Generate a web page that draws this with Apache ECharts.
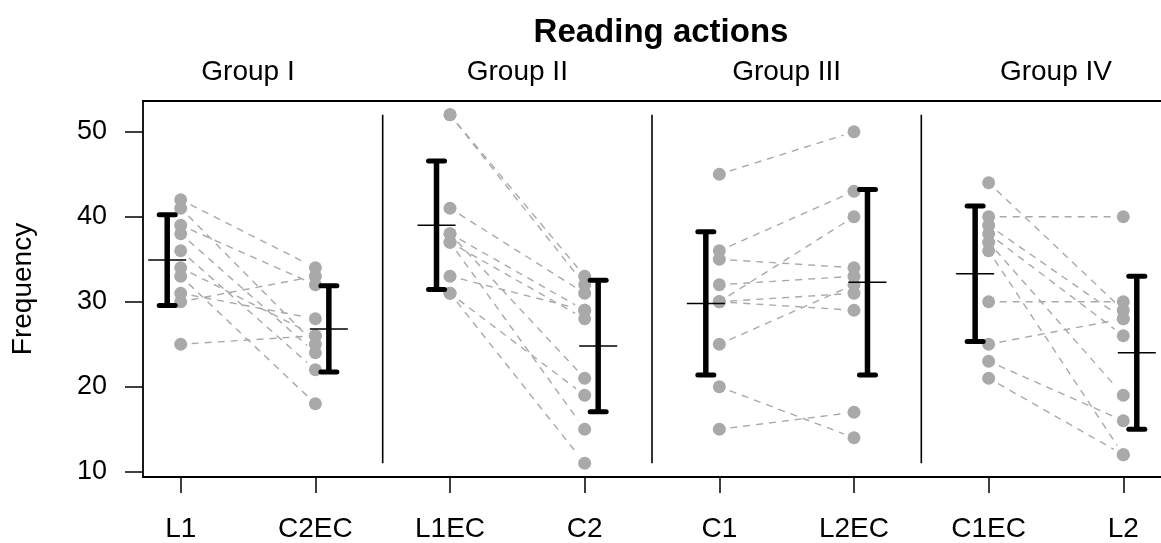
<!DOCTYPE html>
<html>
<head>
<meta charset="utf-8">
<script src="https://cdn.jsdelivr.net/npm/echarts@6/dist/echarts.min.js"></script>
<style>
html,body{margin:0;padding:0;background:#fff;}
#chart{width:1161px;height:543px;}
</style>
</head>
<body>
<div id="chart"></div>
<script>
// ---- data ----
const categories = ['L1', 'C2EC', 'L1EC', 'C2', 'C1', 'L2EC', 'C1EC', 'L2'];
const groupNames = ['Group I', 'Group II', 'Group III', 'Group IV'];
const yTickValues = [10, 20, 30, 40, 50];

// paired subjects: index k of first column is linked to index k of second column
const g1L1   = [42, 41, 39, 38, 36, 34, 33, 31, 30, 25];
const g1C2EC = [34, 25, 32, 24, 22, 26, 18, 28, 33, 26];

const g2L1EC = [52, 52, 41, 38, 38, 37, 37, 33, 31, 31];
const g2C2   = [33, 32, 31, 29, 21, 28, 15, 29, 19, 11];

const g3C1   = [45, 36, 35, 32, 30, 30, 30, 25, 20, 15];
const g3L2EC = [50, 43, 34, 33, 40, 31, 29, 32, 14, 17];

const g4C1EC = [44, 40, 39, 38, 37, 36, 30, 25, 23, 21];
const g4L2   = [29, 40, 28, 26, 19, 12, 30, 28, 16, 12];

// ---- derived ----
const columns = [g1L1, g1C2EC, g2L1EC, g2C2, g3C1, g3L2EC, g4C1EC, g4L2];
const FONT = '"Liberation Sans", Arial, Helvetica, sans-serif';

function mean(a) { return a.reduce((s, v) => s + v, 0) / a.length; }
function sd(a) { const m = mean(a); return Math.sqrt(a.reduce((s, v) => s + (v - m) * (v - m), 0) / (a.length - 1)); }

const points = [];
columns.forEach((col, i) => col.forEach(v => points.push([i, v])));

const pairs = [];
for (let g = 0; g < columns.length / 2; g++) {
  const a = columns[2 * g], b = columns[2 * g + 1];
  a.forEach((v, k) => pairs.push([2 * g, v, 2 * g + 1, b[k]]));
}

const bars = columns.map((col, i) => [i, mean(col), sd(col), i % 2 === 0 ? -1 : 1]);

const allVals = columns.flat();
const lo = Math.min(...allVals), hi = Math.max(...allVals);
const seps = [];
for (let g = 1; g < groupNames.length; g++) seps.push([2 * g - 0.5, lo, hi]);

const chart = echarts.init(document.getElementById('chart'), null, { renderer: 'canvas' });

const GRAY = '#a9a9a9';
const GAP = 11;

const option = {
  backgroundColor: '#ffffff',
  animation: false,
  title: {
    text: 'Reading actions',
    left: 656,
    top: 11,
    textAlign: 'center',
    textStyle: { fontFamily: FONT, fontSize: 33, fontWeight: 'bold', color: '#000' }
  },
  grid: { left: 143, right: -9, top: 101, bottom: 66, containLabel: false },
  xAxis: [
    {
      type: 'value', position: 'bottom', min: -0.28, max: 7.28,
      splitLine: { show: false },
      axisLine: { show: true, onZero: false, lineStyle: { color: '#000', width: 1.8 } },
      axisTick: { show: true, inside: false, length: 16, customValues: categories.map((c, i) => i), lineStyle: { color: '#000', width: 1.5 } },
      axisLabel: {
        show: true, margin: 38, customValues: categories.map((c, i) => i),
        formatter: (v) => categories[Math.round(v)] || '',
        fontFamily: FONT, fontSize: 28, color: '#000'
      }
    },
    {
      type: 'value', position: 'top', min: -0.28, max: 7.28,
      splitLine: { show: false },
      axisLine: { show: true, onZero: false, lineStyle: { color: '#000', width: 1.8 } },
      axisTick: { show: false },
      axisLabel: {
        show: true, margin: 15, customValues: groupNames.map((g, i) => 2 * i + 0.5),
        formatter: (v) => groupNames[Math.round((v - 0.5) / 2)] || '',
        fontFamily: FONT, fontSize: 28, color: '#000'
      }
    }
  ],
  yAxis: {
    type: 'value', min: 9.38, max: 53.62,
    name: 'Frequency', nameLocation: 'middle', nameGap: 106, nameRotate: 90,
    nameTextStyle: { fontFamily: FONT, fontSize: 28, color: '#000' },
    splitLine: { show: false },
    axisLine: { show: true, onZero: false, lineStyle: { color: '#000', width: 1.8 } },
    axisTick: { show: true, inside: false, length: 18, customValues: yTickValues, lineStyle: { color: '#000', width: 1.5 } },
    axisLabel: {
      show: true, margin: 36, customValues: yTickValues,
      fontFamily: FONT, fontSize: 27, color: '#000'
    }
  },
  series: [
    {
      name: 'pairs', type: 'custom', xAxisIndex: 0, z: 1,
      encode: { x: [0, 2], y: [1, 3] },
      data: pairs,
      renderItem: function (params, api) {
        const p0 = api.coord([api.value(0), api.value(1)]);
        const p1 = api.coord([api.value(2), api.value(3)]);
        const dx = p1[0] - p0[0], dy = p1[1] - p0[1];
        const len = Math.sqrt(dx * dx + dy * dy);
        const ux = dx / len, uy = dy / len;
        return {
          type: 'line',
          shape: { x1: p0[0] + ux * GAP, y1: p0[1] + uy * GAP, x2: p1[0] - ux * GAP, y2: p1[1] - uy * GAP },
          style: { stroke: GRAY, lineWidth: 1.4, lineDash: [7, 6], fill: null }
        };
      }
    },
    {
      name: 'points', type: 'scatter', xAxisIndex: 0, z: 2,
      symbol: 'circle', symbolSize: 13,
      itemStyle: { color: GRAY, opacity: 1 },
      data: points
    },
    {
      name: 'separators', type: 'custom', xAxisIndex: 0, z: 3,
      encode: { x: 0, y: [1, 2] },
      data: seps,
      renderItem: function (params, api) {
        const a = api.coord([api.value(0), api.value(1)]);
        const b = api.coord([api.value(0), api.value(2)]);
        return { type: 'line', shape: { x1: a[0], y1: a[1], x2: b[0], y2: b[1] }, style: { stroke: '#000', lineWidth: 1.6 } };
      }
    },
    {
      name: 'errorbars', type: 'custom', xAxisIndex: 0, z: 4,
      encode: { x: 0, y: 1 },
      data: bars,
      renderItem: function (params, api) {
        const x = api.value(0), m = api.value(1), s = api.value(2), side = api.value(3);
        const c = api.coord([x, m]);
        const t = api.coord([x, m + s]);
        const b = api.coord([x, m - s]);
        const px = c[0] + side * 13.5;
        const capStyle = { stroke: '#000', lineWidth: 5, lineCap: 'round' };
        return {
          type: 'group',
          children: [
            { type: 'line', shape: { x1: px, y1: t[1], x2: px, y2: b[1] }, style: { stroke: '#000', lineWidth: 5.5 } },
            { type: 'line', shape: { x1: px - 8, y1: t[1], x2: px + 8, y2: t[1] }, style: capStyle },
            { type: 'line', shape: { x1: px - 8, y1: b[1], x2: px + 8, y2: b[1] }, style: capStyle },
            { type: 'line', shape: { x1: px - 19, y1: c[1], x2: px + 19, y2: c[1] }, style: { stroke: '#000', lineWidth: 1.5 } }
          ]
        };
      }
    }
  ]
};

chart.setOption(option);
</script>
</body>
</html>
